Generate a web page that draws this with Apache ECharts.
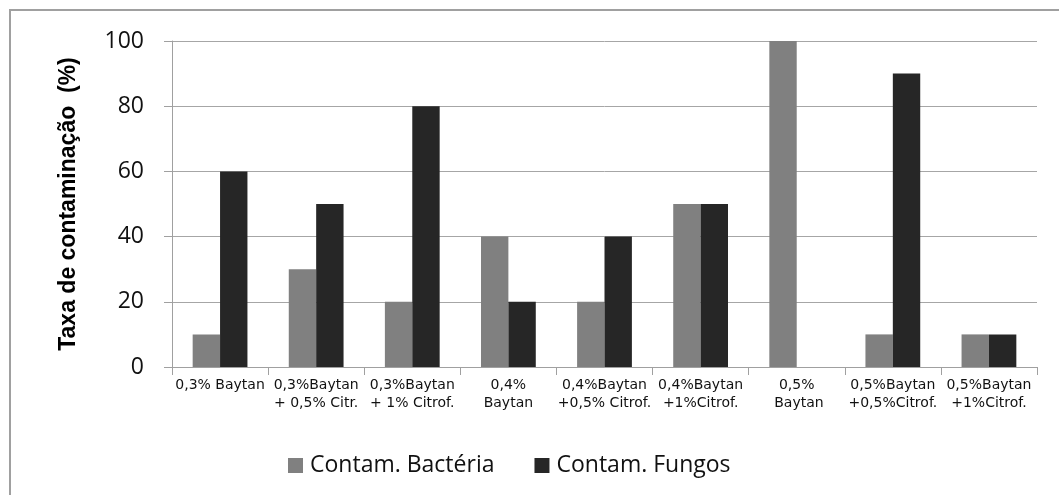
<!DOCTYPE html>
<html><head><meta charset="utf-8">
<script src="https://cdn.jsdelivr.net/npm/echarts@6/dist/echarts.min.js"></script>
<style>html,body{margin:0;padding:0;background:#fff}#c{width:1059px;height:495px}</style>
</head><body><div id="c"></div>
<script>
const categories = ["0,3% Baytan", "0,3%Baytan\n+ 0,5% Citr.", "0,3%Baytan\n+ 1% Citrof.", "0,4%\nBaytan", "0,4%Baytan\n+0,5% Citrof.", "0,4%Baytan\n+1%Citrof.", "0,5%\n Baytan", "0,5%Baytan\n+0,5%Citrof.", "0,5%Baytan\n+1%Citrof."];
const bacteria = [10, 30, 20, 40, 20, 50, 100, 10, 10];
const fungi = [60, 50, 80, 20, 40, 50, 0, 90, 10];
const seriesNames = ["Contam. Bactéria", "Contam. Fungos"];
const yTicks = [0, 20, 40, 60, 80, 100];

const chart = echarts.init(document.getElementById('c'), null, {renderer: 'canvas'});
chart.setOption({
  animation: false,
  backgroundColor: '#fff',
  graphic: [{type: 'rect', shape: {x: 10, y: 10, width: 1070, height: 500}, style: {fill: 'none', stroke: '#a0a0a0', lineWidth: 2}, silent: true}],
  grid: {left: 172, right: 22, top: 41, bottom: 128},
  legend: {
    data: seriesNames, top: 449, left: 283, itemWidth: 15, itemHeight: 15, itemGap: 40,
    icon: 'rect',
    textStyle: {fontFamily: 'Open Sans', fontSize: 23, color: '#111', padding: [0, 0, 0, 2]}
  },
  xAxis: {
    type: 'category', data: categories,
    axisLine: {lineStyle: {color: '#a0a0a0', width: 1}},
    axisTick: {show: true, length: 8, lineStyle: {color: '#a0a0a0'}},
    axisLabel: {interval: 0, fontFamily: 'DejaVu Sans', fontSize: 14, color: '#111', margin: 9, lineHeight: 18}
  },
  yAxis: {
    type: 'value', min: yTicks[0], max: yTicks[yTicks.length - 1], interval: 20,
    name: 'Taxa de contaminação  (%)', nameLocation: 'middle', nameGap: 92, nameRotate: 90,
    nameTextStyle: {fontFamily: 'Liberation Sans', fontWeight: 'bold', fontSize: 23, color: '#000'},
    axisLine: {show: true, lineStyle: {color: '#a0a0a0'}},
    axisTick: {show: true, length: 8, lineStyle: {color: '#a0a0a0'}},
    splitLine: {lineStyle: {color: '#a6a6a6', width: 1}},
    axisLabel: {fontFamily: 'Open Sans', fontSize: 23, color: '#111', margin: 28}
  },
  series: [
    {name: seriesNames[0], type: 'bar', data: bacteria, barGap: '0%', barCategoryGap: '43%', itemStyle: {color: '#808080'}},
    {name: seriesNames[1], type: 'bar', data: fungi, barGap: '0%', barCategoryGap: '43%', itemStyle: {color: '#262626'}}
  ]
});
</script></body></html>
